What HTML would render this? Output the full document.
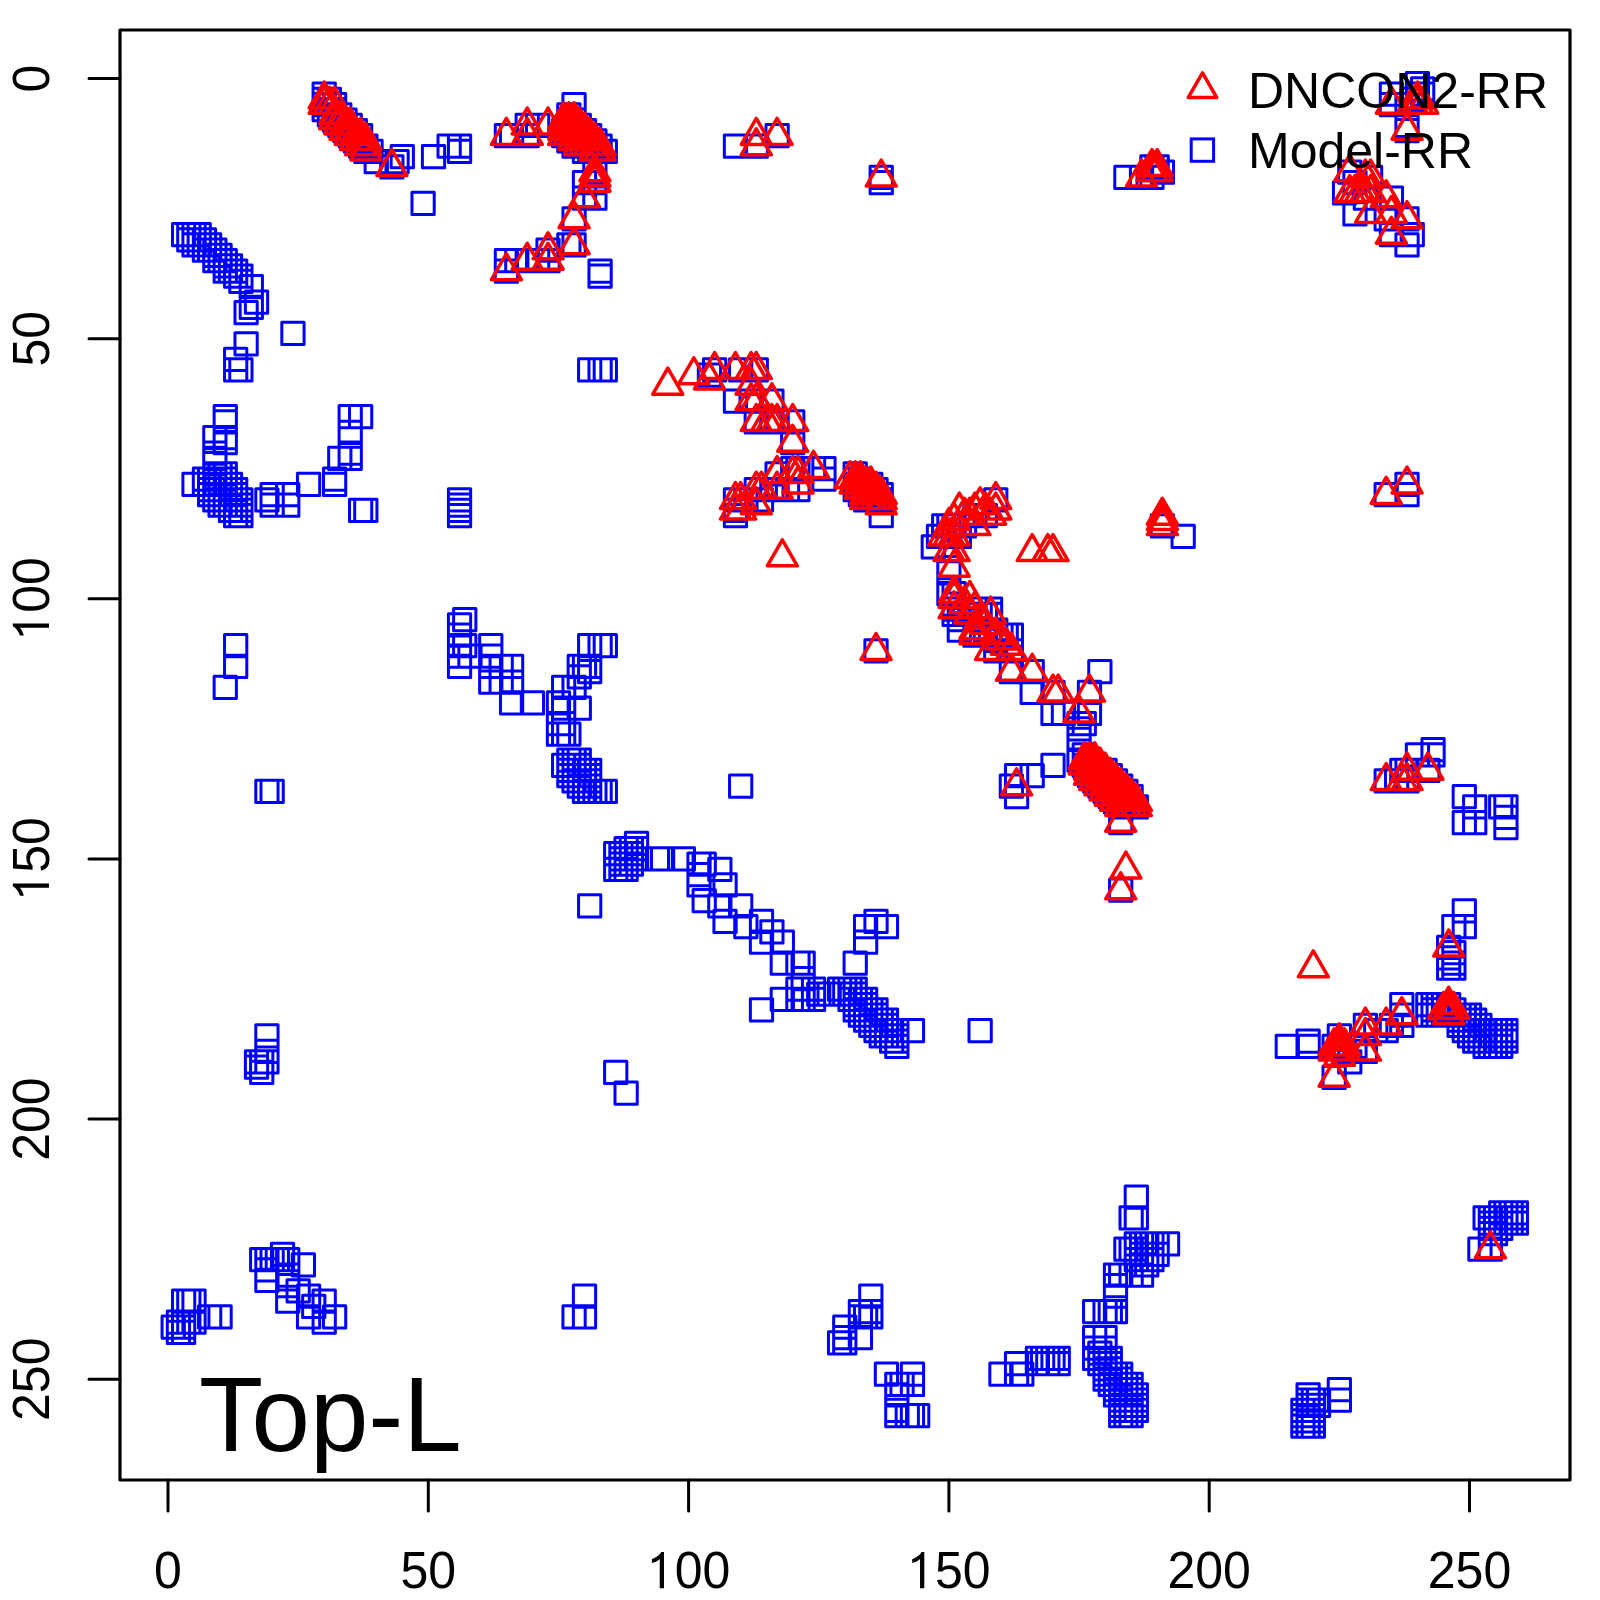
<!DOCTYPE html>
<html><head><meta charset="utf-8"><style>
html,body{margin:0;padding:0;background:#fff;}
svg{display:block;}
.ax{font-family:"Liberation Sans",sans-serif;font-size:50px;fill:#000;}
.lg{font-family:"Liberation Sans",sans-serif;font-size:50px;fill:#000;}
</style></head><body>
<svg width="1600" height="1600" viewBox="0 0 1600 1600">
<rect width="1600" height="1600" fill="#fff"/>
<path d="M172.49 223.47h22.25v22.25h-22.25zM177.70 223.47h22.25v22.25h-22.25zM182.91 223.47h22.25v22.25h-22.25zM188.11 223.47h22.25v22.25h-22.25zM177.70 228.67h22.25v22.25h-22.25zM182.91 228.67h22.25v22.25h-22.25zM188.11 228.67h22.25v22.25h-22.25zM193.32 228.67h22.25v22.25h-22.25zM182.91 233.87h22.25v22.25h-22.25zM188.11 233.87h22.25v22.25h-22.25zM193.32 233.87h22.25v22.25h-22.25zM198.52 233.87h22.25v22.25h-22.25zM193.32 239.07h22.25v22.25h-22.25zM198.52 239.07h22.25v22.25h-22.25zM203.73 239.07h22.25v22.25h-22.25zM203.73 244.28h22.25v22.25h-22.25zM208.94 244.28h22.25v22.25h-22.25zM203.73 249.48h22.25v22.25h-22.25zM208.94 249.48h22.25v22.25h-22.25zM214.14 249.48h22.25v22.25h-22.25zM214.14 254.68h22.25v22.25h-22.25zM219.35 254.68h22.25v22.25h-22.25zM214.14 259.89h22.25v22.25h-22.25zM219.35 259.89h22.25v22.25h-22.25zM224.55 259.89h22.25v22.25h-22.25zM224.55 265.09h22.25v22.25h-22.25zM229.76 265.09h22.25v22.25h-22.25zM229.76 270.29h22.25v22.25h-22.25zM240.17 275.50h22.25v22.25h-22.25zM245.38 291.10h22.25v22.25h-22.25zM240.17 296.31h22.25v22.25h-22.25zM234.97 301.51h22.25v22.25h-22.25zM281.82 322.32h22.25v22.25h-22.25zM234.97 332.73h22.25v22.25h-22.25zM224.55 348.34h22.25v22.25h-22.25zM224.55 358.74h22.25v22.25h-22.25zM229.76 358.74h22.25v22.25h-22.25zM214.14 405.57h22.25v22.25h-22.25zM214.14 410.77h22.25v22.25h-22.25zM203.73 426.38h22.25v22.25h-22.25zM214.14 426.38h22.25v22.25h-22.25zM214.14 431.59h22.25v22.25h-22.25zM203.73 441.99h22.25v22.25h-22.25zM203.73 447.19h22.25v22.25h-22.25zM203.73 452.40h22.25v22.25h-22.25zM203.73 462.80h22.25v22.25h-22.25zM208.94 462.80h22.25v22.25h-22.25zM214.14 462.80h22.25v22.25h-22.25zM193.32 468.01h22.25v22.25h-22.25zM198.52 468.01h22.25v22.25h-22.25zM203.73 468.01h22.25v22.25h-22.25zM208.94 468.01h22.25v22.25h-22.25zM214.14 468.01h22.25v22.25h-22.25zM193.32 473.21h22.25v22.25h-22.25zM198.52 473.21h22.25v22.25h-22.25zM203.73 473.21h22.25v22.25h-22.25zM208.94 473.21h22.25v22.25h-22.25zM214.14 473.21h22.25v22.25h-22.25zM219.35 473.21h22.25v22.25h-22.25zM198.52 478.41h22.25v22.25h-22.25zM203.73 478.41h22.25v22.25h-22.25zM208.94 478.41h22.25v22.25h-22.25zM214.14 478.41h22.25v22.25h-22.25zM219.35 478.41h22.25v22.25h-22.25zM224.55 478.41h22.25v22.25h-22.25zM198.52 483.62h22.25v22.25h-22.25zM203.73 483.62h22.25v22.25h-22.25zM208.94 483.62h22.25v22.25h-22.25zM214.14 483.62h22.25v22.25h-22.25zM219.35 483.62h22.25v22.25h-22.25zM224.55 483.62h22.25v22.25h-22.25zM203.73 488.82h22.25v22.25h-22.25zM208.94 488.82h22.25v22.25h-22.25zM214.14 488.82h22.25v22.25h-22.25zM219.35 488.82h22.25v22.25h-22.25zM224.55 488.82h22.25v22.25h-22.25zM229.76 488.82h22.25v22.25h-22.25zM208.94 494.02h22.25v22.25h-22.25zM214.14 494.02h22.25v22.25h-22.25zM219.35 494.02h22.25v22.25h-22.25zM224.55 494.02h22.25v22.25h-22.25zM229.76 494.02h22.25v22.25h-22.25zM219.35 499.22h22.25v22.25h-22.25zM224.55 499.22h22.25v22.25h-22.25zM229.76 499.22h22.25v22.25h-22.25zM224.55 504.43h22.25v22.25h-22.25zM229.76 504.43h22.25v22.25h-22.25zM182.91 473.21h22.25v22.25h-22.25zM255.79 488.82h22.25v22.25h-22.25zM261.00 483.62h22.25v22.25h-22.25zM261.00 494.02h22.25v22.25h-22.25zM276.61 483.62h22.25v22.25h-22.25zM276.61 494.02h22.25v22.25h-22.25zM297.44 473.21h22.25v22.25h-22.25zM323.47 468.01h22.25v22.25h-22.25zM323.47 473.21h22.25v22.25h-22.25zM328.67 447.19h22.25v22.25h-22.25zM339.09 447.19h22.25v22.25h-22.25zM339.09 441.99h22.25v22.25h-22.25zM339.09 421.18h22.25v22.25h-22.25zM339.09 405.57h22.25v22.25h-22.25zM349.50 405.57h22.25v22.25h-22.25zM313.06 82.98h22.25v22.25h-22.25zM313.06 88.19h22.25v22.25h-22.25zM313.06 93.39h22.25v22.25h-22.25zM313.06 98.59h22.25v22.25h-22.25zM318.26 88.19h22.25v22.25h-22.25zM318.26 93.39h22.25v22.25h-22.25zM318.26 98.59h22.25v22.25h-22.25zM318.26 103.80h22.25v22.25h-22.25zM323.47 93.39h22.25v22.25h-22.25zM323.47 98.59h22.25v22.25h-22.25zM323.47 103.80h22.25v22.25h-22.25zM323.47 109.00h22.25v22.25h-22.25zM328.67 103.80h22.25v22.25h-22.25zM328.67 109.00h22.25v22.25h-22.25zM328.67 114.20h22.25v22.25h-22.25zM333.88 109.00h22.25v22.25h-22.25zM333.88 114.20h22.25v22.25h-22.25zM333.88 119.41h22.25v22.25h-22.25zM339.09 114.20h22.25v22.25h-22.25zM339.09 119.41h22.25v22.25h-22.25zM339.09 124.61h22.25v22.25h-22.25zM344.29 119.41h22.25v22.25h-22.25zM344.29 124.61h22.25v22.25h-22.25zM344.29 129.81h22.25v22.25h-22.25zM349.50 124.61h22.25v22.25h-22.25zM349.50 129.81h22.25v22.25h-22.25zM349.50 135.01h22.25v22.25h-22.25zM354.70 135.01h22.25v22.25h-22.25zM354.70 140.22h22.25v22.25h-22.25zM359.91 140.22h22.25v22.25h-22.25zM365.12 150.62h22.25v22.25h-22.25zM380.73 155.83h22.25v22.25h-22.25zM385.94 150.62h22.25v22.25h-22.25zM391.14 145.42h22.25v22.25h-22.25zM411.97 192.25h22.25v22.25h-22.25zM422.38 145.42h22.25v22.25h-22.25zM438.00 135.01h22.25v22.25h-22.25zM448.41 135.01h22.25v22.25h-22.25zM448.41 140.22h22.25v22.25h-22.25zM495.27 124.61h22.25v22.25h-22.25zM500.47 124.61h22.25v22.25h-22.25zM516.09 114.20h22.25v22.25h-22.25zM516.09 124.61h22.25v22.25h-22.25zM526.50 114.20h22.25v22.25h-22.25zM562.94 93.39h22.25v22.25h-22.25zM557.74 103.80h22.25v22.25h-22.25zM583.77 161.03h22.25v22.25h-22.25zM583.77 171.44h22.25v22.25h-22.25zM583.77 187.04h22.25v22.25h-22.25zM573.36 171.44h22.25v22.25h-22.25zM573.36 187.04h22.25v22.25h-22.25zM562.94 207.86h22.25v22.25h-22.25zM557.74 233.87h22.25v22.25h-22.25zM562.94 233.87h22.25v22.25h-22.25zM536.91 239.07h22.25v22.25h-22.25zM495.27 249.48h22.25v22.25h-22.25zM505.68 249.48h22.25v22.25h-22.25zM516.09 249.48h22.25v22.25h-22.25zM526.50 249.48h22.25v22.25h-22.25zM536.91 249.48h22.25v22.25h-22.25zM495.27 259.89h22.25v22.25h-22.25zM588.97 259.89h22.25v22.25h-22.25zM588.97 265.09h22.25v22.25h-22.25zM557.74 109.00h22.25v22.25h-22.25zM562.94 109.00h22.25v22.25h-22.25zM557.74 114.20h22.25v22.25h-22.25zM562.94 114.20h22.25v22.25h-22.25zM568.15 114.20h22.25v22.25h-22.25zM552.53 119.41h22.25v22.25h-22.25zM557.74 119.41h22.25v22.25h-22.25zM562.94 119.41h22.25v22.25h-22.25zM568.15 119.41h22.25v22.25h-22.25zM573.36 119.41h22.25v22.25h-22.25zM552.53 124.61h22.25v22.25h-22.25zM557.74 124.61h22.25v22.25h-22.25zM562.94 124.61h22.25v22.25h-22.25zM568.15 124.61h22.25v22.25h-22.25zM573.36 124.61h22.25v22.25h-22.25zM578.56 124.61h22.25v22.25h-22.25zM557.74 129.81h22.25v22.25h-22.25zM562.94 129.81h22.25v22.25h-22.25zM568.15 129.81h22.25v22.25h-22.25zM573.36 129.81h22.25v22.25h-22.25zM578.56 129.81h22.25v22.25h-22.25zM583.77 129.81h22.25v22.25h-22.25zM562.94 135.01h22.25v22.25h-22.25zM568.15 135.01h22.25v22.25h-22.25zM573.36 135.01h22.25v22.25h-22.25zM578.56 135.01h22.25v22.25h-22.25zM583.77 135.01h22.25v22.25h-22.25zM588.97 135.01h22.25v22.25h-22.25zM573.36 140.22h22.25v22.25h-22.25zM578.56 140.22h22.25v22.25h-22.25zM583.77 140.22h22.25v22.25h-22.25zM588.97 140.22h22.25v22.25h-22.25zM594.18 140.22h22.25v22.25h-22.25zM578.56 358.74h22.25v22.25h-22.25zM588.97 358.74h22.25v22.25h-22.25zM594.18 358.74h22.25v22.25h-22.25zM448.41 488.82h22.25v22.25h-22.25zM448.41 494.02h22.25v22.25h-22.25zM448.41 499.22h22.25v22.25h-22.25zM448.41 504.43h22.25v22.25h-22.25zM698.30 363.95h22.25v22.25h-22.25zM724.33 389.96h22.25v22.25h-22.25zM760.77 389.96h22.25v22.25h-22.25zM781.60 431.59h22.25v22.25h-22.25zM765.98 462.80h22.25v22.25h-22.25zM844.07 462.80h22.25v22.25h-22.25zM812.83 468.01h22.25v22.25h-22.25zM724.33 499.22h22.25v22.25h-22.25zM724.33 504.43h22.25v22.25h-22.25zM844.07 468.01h22.25v22.25h-22.25zM844.07 478.41h22.25v22.25h-22.25zM849.27 468.01h22.25v22.25h-22.25zM844.07 473.21h22.25v22.25h-22.25zM849.27 473.21h22.25v22.25h-22.25zM854.48 473.21h22.25v22.25h-22.25zM859.69 473.21h22.25v22.25h-22.25zM849.27 478.41h22.25v22.25h-22.25zM854.48 478.41h22.25v22.25h-22.25zM859.69 478.41h22.25v22.25h-22.25zM864.89 478.41h22.25v22.25h-22.25zM849.27 483.62h22.25v22.25h-22.25zM854.48 483.62h22.25v22.25h-22.25zM859.69 483.62h22.25v22.25h-22.25zM864.89 483.62h22.25v22.25h-22.25zM870.10 483.62h22.25v22.25h-22.25zM854.48 488.82h22.25v22.25h-22.25zM859.69 488.82h22.25v22.25h-22.25zM864.89 488.82h22.25v22.25h-22.25zM870.10 488.82h22.25v22.25h-22.25zM870.10 504.43h22.25v22.25h-22.25zM724.33 135.01h22.25v22.25h-22.25zM745.15 135.01h22.25v22.25h-22.25zM765.98 124.61h22.25v22.25h-22.25zM870.10 166.23h22.25v22.25h-22.25zM870.10 171.44h22.25v22.25h-22.25zM1114.78 166.23h22.25v22.25h-22.25zM1130.40 166.23h22.25v22.25h-22.25zM1140.81 166.23h22.25v22.25h-22.25zM1140.81 155.83h22.25v22.25h-22.25zM1146.02 155.83h22.25v22.25h-22.25zM1151.22 161.03h22.25v22.25h-22.25zM1338.64 161.03h22.25v22.25h-22.25zM1333.43 181.84h22.25v22.25h-22.25zM1343.84 202.65h22.25v22.25h-22.25zM1359.46 166.23h22.25v22.25h-22.25zM1380.29 187.04h22.25v22.25h-22.25zM1395.90 207.86h22.25v22.25h-22.25zM1401.11 223.47h22.25v22.25h-22.25zM1395.90 233.87h22.25v22.25h-22.25zM1380.29 223.47h22.25v22.25h-22.25zM1375.08 207.86h22.25v22.25h-22.25zM1354.26 187.04h22.25v22.25h-22.25zM1343.84 171.44h22.25v22.25h-22.25zM1406.32 72.58h22.25v22.25h-22.25zM1411.52 77.78h22.25v22.25h-22.25zM1411.52 82.98h22.25v22.25h-22.25zM1380.29 82.98h22.25v22.25h-22.25zM1380.29 93.39h22.25v22.25h-22.25zM1395.90 93.39h22.25v22.25h-22.25zM1395.90 114.20h22.25v22.25h-22.25zM1395.90 119.41h22.25v22.25h-22.25zM1401.11 88.19h22.25v22.25h-22.25zM984.63 488.82h22.25v22.25h-22.25zM932.57 514.83h22.25v22.25h-22.25zM927.36 525.24h22.25v22.25h-22.25zM922.16 535.64h22.25v22.25h-22.25zM937.78 514.83h22.25v22.25h-22.25zM942.98 514.83h22.25v22.25h-22.25zM948.19 525.24h22.25v22.25h-22.25zM937.78 556.46h22.25v22.25h-22.25zM937.78 561.66h22.25v22.25h-22.25zM937.78 582.47h22.25v22.25h-22.25zM942.98 582.47h22.25v22.25h-22.25zM942.98 598.08h22.25v22.25h-22.25zM942.98 603.28h22.25v22.25h-22.25zM1000.25 624.10h22.25v22.25h-22.25zM984.63 618.89h22.25v22.25h-22.25zM979.42 598.08h22.25v22.25h-22.25zM974.22 504.43h22.25v22.25h-22.25zM963.81 504.43h22.25v22.25h-22.25zM953.39 514.83h22.25v22.25h-22.25zM942.98 592.88h22.25v22.25h-22.25zM948.19 608.49h22.25v22.25h-22.25zM948.19 618.89h22.25v22.25h-22.25zM953.39 603.28h22.25v22.25h-22.25zM958.60 598.08h22.25v22.25h-22.25zM963.81 598.08h22.25v22.25h-22.25zM963.81 608.49h22.25v22.25h-22.25zM963.81 624.10h22.25v22.25h-22.25zM969.01 603.28h22.25v22.25h-22.25zM974.22 603.28h22.25v22.25h-22.25zM979.42 603.28h22.25v22.25h-22.25zM974.22 618.89h22.25v22.25h-22.25zM979.42 618.89h22.25v22.25h-22.25zM984.63 629.30h22.25v22.25h-22.25zM984.63 639.71h22.25v22.25h-22.25zM989.84 624.10h22.25v22.25h-22.25zM995.04 624.10h22.25v22.25h-22.25zM1000.25 639.71h22.25v22.25h-22.25zM1000.25 660.52h22.25v22.25h-22.25zM1021.07 660.52h22.25v22.25h-22.25zM1021.07 681.33h22.25v22.25h-22.25zM1041.89 681.33h22.25v22.25h-22.25zM1041.89 702.14h22.25v22.25h-22.25zM1078.34 681.33h22.25v22.25h-22.25zM1088.75 660.52h22.25v22.25h-22.25zM1067.93 728.16h22.25v22.25h-22.25zM1078.34 702.14h22.25v22.25h-22.25zM1067.93 712.55h22.25v22.25h-22.25zM1067.93 717.75h22.25v22.25h-22.25zM1073.13 712.55h22.25v22.25h-22.25zM1041.89 754.17h22.25v22.25h-22.25zM1021.07 764.58h22.25v22.25h-22.25zM1109.57 811.40h22.25v22.25h-22.25zM1073.13 743.76h22.25v22.25h-22.25zM1067.93 748.97h22.25v22.25h-22.25zM1073.13 748.97h22.25v22.25h-22.25zM1078.34 748.97h22.25v22.25h-22.25zM1073.13 754.17h22.25v22.25h-22.25zM1078.34 754.17h22.25v22.25h-22.25zM1083.54 754.17h22.25v22.25h-22.25zM1078.34 759.37h22.25v22.25h-22.25zM1083.54 759.37h22.25v22.25h-22.25zM1088.75 759.37h22.25v22.25h-22.25zM1093.95 759.37h22.25v22.25h-22.25zM1078.34 764.58h22.25v22.25h-22.25zM1083.54 764.58h22.25v22.25h-22.25zM1088.75 764.58h22.25v22.25h-22.25zM1093.95 764.58h22.25v22.25h-22.25zM1099.16 764.58h22.25v22.25h-22.25zM1083.54 769.78h22.25v22.25h-22.25zM1088.75 769.78h22.25v22.25h-22.25zM1093.95 769.78h22.25v22.25h-22.25zM1099.16 769.78h22.25v22.25h-22.25zM1104.37 769.78h22.25v22.25h-22.25zM1088.75 774.98h22.25v22.25h-22.25zM1093.95 774.98h22.25v22.25h-22.25zM1099.16 774.98h22.25v22.25h-22.25zM1104.37 774.98h22.25v22.25h-22.25zM1109.57 774.98h22.25v22.25h-22.25zM1093.95 780.19h22.25v22.25h-22.25zM1099.16 780.19h22.25v22.25h-22.25zM1104.37 780.19h22.25v22.25h-22.25zM1109.57 780.19h22.25v22.25h-22.25zM1114.78 780.19h22.25v22.25h-22.25zM1099.16 785.39h22.25v22.25h-22.25zM1104.37 785.39h22.25v22.25h-22.25zM1109.57 785.39h22.25v22.25h-22.25zM1114.78 785.39h22.25v22.25h-22.25zM1119.99 785.39h22.25v22.25h-22.25zM1104.37 790.59h22.25v22.25h-22.25zM1109.57 790.59h22.25v22.25h-22.25zM1114.78 790.59h22.25v22.25h-22.25zM1119.99 790.59h22.25v22.25h-22.25zM1109.57 795.80h22.25v22.25h-22.25zM1114.78 795.80h22.25v22.25h-22.25zM1119.99 795.80h22.25v22.25h-22.25zM1125.19 795.80h22.25v22.25h-22.25zM1005.45 764.58h22.25v22.25h-22.25zM1000.25 774.98h22.25v22.25h-22.25zM1005.45 785.39h22.25v22.25h-22.25zM1109.57 879.04h22.25v22.25h-22.25zM1151.22 514.83h22.25v22.25h-22.25zM1172.05 525.24h22.25v22.25h-22.25zM1375.08 483.62h22.25v22.25h-22.25zM1395.90 473.21h22.25v22.25h-22.25zM1395.90 483.62h22.25v22.25h-22.25zM864.89 639.71h22.25v22.25h-22.25zM729.54 774.98h22.25v22.25h-22.25zM646.24 847.83h22.25v22.25h-22.25zM651.45 847.83h22.25v22.25h-22.25zM672.27 847.83h22.25v22.25h-22.25zM687.89 853.03h22.25v22.25h-22.25zM693.09 853.03h22.25v22.25h-22.25zM687.89 873.84h22.25v22.25h-22.25zM708.71 858.23h22.25v22.25h-22.25zM713.92 873.84h22.25v22.25h-22.25zM693.09 889.45h22.25v22.25h-22.25zM708.71 894.65h22.25v22.25h-22.25zM713.92 910.26h22.25v22.25h-22.25zM729.54 894.65h22.25v22.25h-22.25zM750.36 910.26h22.25v22.25h-22.25zM578.56 894.65h22.25v22.25h-22.25zM687.89 863.43h22.25v22.25h-22.25zM750.36 931.07h22.25v22.25h-22.25zM771.18 931.07h22.25v22.25h-22.25zM771.18 951.89h22.25v22.25h-22.25zM786.80 951.89h22.25v22.25h-22.25zM792.01 951.89h22.25v22.25h-22.25zM792.01 967.49h22.25v22.25h-22.25zM771.18 988.31h22.25v22.25h-22.25zM750.36 998.71h22.25v22.25h-22.25zM844.07 951.89h22.25v22.25h-22.25zM854.48 915.46h22.25v22.25h-22.25zM854.48 931.07h22.25v22.25h-22.25zM864.89 910.26h22.25v22.25h-22.25zM875.30 915.46h22.25v22.25h-22.25zM734.74 915.46h22.25v22.25h-22.25zM760.77 920.67h22.25v22.25h-22.25zM818.04 983.10h22.25v22.25h-22.25zM901.33 1019.52h22.25v22.25h-22.25zM224.55 634.50h22.25v22.25h-22.25zM224.55 655.31h22.25v22.25h-22.25zM214.14 676.13h22.25v22.25h-22.25zM255.79 780.19h22.25v22.25h-22.25zM261.00 780.19h22.25v22.25h-22.25zM453.62 608.49h22.25v22.25h-22.25zM448.41 613.69h22.25v22.25h-22.25zM448.41 624.10h22.25v22.25h-22.25zM448.41 634.50h22.25v22.25h-22.25zM453.62 634.50h22.25v22.25h-22.25zM448.41 644.91h22.25v22.25h-22.25zM448.41 655.31h22.25v22.25h-22.25zM458.82 644.91h22.25v22.25h-22.25zM479.65 634.50h22.25v22.25h-22.25zM479.65 644.91h22.25v22.25h-22.25zM479.65 655.31h22.25v22.25h-22.25zM479.65 670.92h22.25v22.25h-22.25zM490.06 655.31h22.25v22.25h-22.25zM500.47 655.31h22.25v22.25h-22.25zM490.06 670.92h22.25v22.25h-22.25zM500.47 670.92h22.25v22.25h-22.25zM500.47 691.74h22.25v22.25h-22.25zM521.30 691.74h22.25v22.25h-22.25zM578.56 634.50h22.25v22.25h-22.25zM588.97 634.50h22.25v22.25h-22.25zM594.18 634.50h22.25v22.25h-22.25zM568.15 655.31h22.25v22.25h-22.25zM573.36 655.31h22.25v22.25h-22.25zM578.56 655.31h22.25v22.25h-22.25zM568.15 665.72h22.25v22.25h-22.25zM578.56 660.52h22.25v22.25h-22.25zM552.53 676.13h22.25v22.25h-22.25zM562.94 676.13h22.25v22.25h-22.25zM547.33 691.74h22.25v22.25h-22.25zM552.53 696.94h22.25v22.25h-22.25zM568.15 696.94h22.25v22.25h-22.25zM547.33 722.95h22.25v22.25h-22.25zM552.53 722.95h22.25v22.25h-22.25zM557.74 722.95h22.25v22.25h-22.25zM547.33 712.55h22.25v22.25h-22.25zM552.53 712.55h22.25v22.25h-22.25zM557.74 748.97h22.25v22.25h-22.25zM562.94 748.97h22.25v22.25h-22.25zM568.15 748.97h22.25v22.25h-22.25zM552.53 754.17h22.25v22.25h-22.25zM557.74 754.17h22.25v22.25h-22.25zM562.94 754.17h22.25v22.25h-22.25zM568.15 754.17h22.25v22.25h-22.25zM557.74 759.37h22.25v22.25h-22.25zM562.94 759.37h22.25v22.25h-22.25zM568.15 759.37h22.25v22.25h-22.25zM573.36 759.37h22.25v22.25h-22.25zM578.56 759.37h22.25v22.25h-22.25zM557.74 764.58h22.25v22.25h-22.25zM562.94 764.58h22.25v22.25h-22.25zM568.15 764.58h22.25v22.25h-22.25zM573.36 764.58h22.25v22.25h-22.25zM578.56 764.58h22.25v22.25h-22.25zM562.94 769.78h22.25v22.25h-22.25zM568.15 769.78h22.25v22.25h-22.25zM573.36 769.78h22.25v22.25h-22.25zM578.56 769.78h22.25v22.25h-22.25zM568.15 774.98h22.25v22.25h-22.25zM573.36 774.98h22.25v22.25h-22.25zM578.56 774.98h22.25v22.25h-22.25zM573.36 780.19h22.25v22.25h-22.25zM578.56 780.19h22.25v22.25h-22.25zM583.77 780.19h22.25v22.25h-22.25zM588.97 780.19h22.25v22.25h-22.25zM594.18 780.19h22.25v22.25h-22.25zM255.79 1024.73h22.25v22.25h-22.25zM255.79 1040.34h22.25v22.25h-22.25zM255.79 1050.74h22.25v22.25h-22.25zM245.38 1050.74h22.25v22.25h-22.25zM245.38 1055.95h22.25v22.25h-22.25zM250.58 1061.15h22.25v22.25h-22.25zM250.58 1050.74h22.25v22.25h-22.25zM604.59 1061.15h22.25v22.25h-22.25zM615.00 1081.96h22.25v22.25h-22.25zM969.01 1019.52h22.25v22.25h-22.25zM1375.08 769.78h22.25v22.25h-22.25zM1395.90 769.78h22.25v22.25h-22.25zM1390.70 759.37h22.25v22.25h-22.25zM1416.73 759.37h22.25v22.25h-22.25zM1406.32 743.76h22.25v22.25h-22.25zM1421.93 738.56h22.25v22.25h-22.25zM1421.93 743.76h22.25v22.25h-22.25zM1395.90 759.37h22.25v22.25h-22.25zM1385.49 769.78h22.25v22.25h-22.25zM1453.17 785.39h22.25v22.25h-22.25zM1463.58 795.80h22.25v22.25h-22.25zM1453.17 811.40h22.25v22.25h-22.25zM1463.58 811.40h22.25v22.25h-22.25zM1489.61 795.80h22.25v22.25h-22.25zM1494.82 795.80h22.25v22.25h-22.25zM1494.82 806.20h22.25v22.25h-22.25zM1494.82 816.61h22.25v22.25h-22.25zM1453.17 899.86h22.25v22.25h-22.25zM1442.76 915.46h22.25v22.25h-22.25zM1453.17 915.46h22.25v22.25h-22.25zM1437.55 936.28h22.25v22.25h-22.25zM1442.76 941.48h22.25v22.25h-22.25zM1437.55 946.68h22.25v22.25h-22.25zM1442.76 951.89h22.25v22.25h-22.25zM1437.55 957.09h22.25v22.25h-22.25zM1442.76 957.09h22.25v22.25h-22.25zM1390.70 993.51h22.25v22.25h-22.25zM1390.70 1003.92h22.25v22.25h-22.25zM1390.70 1014.32h22.25v22.25h-22.25zM1416.73 993.51h22.25v22.25h-22.25zM1421.93 993.51h22.25v22.25h-22.25zM1427.14 993.51h22.25v22.25h-22.25zM1432.35 993.51h22.25v22.25h-22.25zM1437.55 993.51h22.25v22.25h-22.25zM1421.93 998.71h22.25v22.25h-22.25zM1427.14 998.71h22.25v22.25h-22.25zM1432.35 998.71h22.25v22.25h-22.25zM1437.55 998.71h22.25v22.25h-22.25zM1442.76 998.71h22.25v22.25h-22.25zM1416.73 1003.92h22.25v22.25h-22.25zM1421.93 1003.92h22.25v22.25h-22.25zM1427.14 1003.92h22.25v22.25h-22.25zM1432.35 1003.92h22.25v22.25h-22.25zM1437.55 1003.92h22.25v22.25h-22.25zM1442.76 1003.92h22.25v22.25h-22.25zM1447.96 1003.92h22.25v22.25h-22.25zM1453.17 1003.92h22.25v22.25h-22.25zM1458.38 1003.92h22.25v22.25h-22.25zM1447.96 1009.12h22.25v22.25h-22.25zM1453.17 1009.12h22.25v22.25h-22.25zM1458.38 1009.12h22.25v22.25h-22.25zM1463.58 1009.12h22.25v22.25h-22.25zM1447.96 1014.32h22.25v22.25h-22.25zM1453.17 1014.32h22.25v22.25h-22.25zM1458.38 1014.32h22.25v22.25h-22.25zM1463.58 1014.32h22.25v22.25h-22.25zM1468.79 1014.32h22.25v22.25h-22.25zM1453.17 1019.52h22.25v22.25h-22.25zM1458.38 1019.52h22.25v22.25h-22.25zM1463.58 1019.52h22.25v22.25h-22.25zM1468.79 1019.52h22.25v22.25h-22.25zM1473.99 1019.52h22.25v22.25h-22.25zM1479.20 1019.52h22.25v22.25h-22.25zM1484.41 1019.52h22.25v22.25h-22.25zM1489.61 1019.52h22.25v22.25h-22.25zM1494.82 1019.52h22.25v22.25h-22.25zM1458.38 1024.73h22.25v22.25h-22.25zM1463.58 1024.73h22.25v22.25h-22.25zM1468.79 1024.73h22.25v22.25h-22.25zM1473.99 1024.73h22.25v22.25h-22.25zM1479.20 1024.73h22.25v22.25h-22.25zM1484.41 1024.73h22.25v22.25h-22.25zM1489.61 1024.73h22.25v22.25h-22.25zM1494.82 1024.73h22.25v22.25h-22.25zM1463.58 1029.93h22.25v22.25h-22.25zM1468.79 1029.93h22.25v22.25h-22.25zM1473.99 1029.93h22.25v22.25h-22.25zM1479.20 1029.93h22.25v22.25h-22.25zM1484.41 1029.93h22.25v22.25h-22.25zM1489.61 1029.93h22.25v22.25h-22.25zM1494.82 1029.93h22.25v22.25h-22.25zM1473.99 1035.13h22.25v22.25h-22.25zM1479.20 1035.13h22.25v22.25h-22.25zM1484.41 1035.13h22.25v22.25h-22.25zM1489.61 1035.13h22.25v22.25h-22.25zM1276.17 1035.13h22.25v22.25h-22.25zM1296.99 1029.93h22.25v22.25h-22.25zM1296.99 1035.13h22.25v22.25h-22.25zM1328.23 1024.73h22.25v22.25h-22.25zM1323.02 1035.13h22.25v22.25h-22.25zM1323.02 1066.35h22.25v22.25h-22.25zM1338.64 1050.74h22.25v22.25h-22.25zM1354.26 1014.32h22.25v22.25h-22.25zM1354.26 1040.34h22.25v22.25h-22.25zM1333.43 1040.34h22.25v22.25h-22.25zM1343.84 1035.13h22.25v22.25h-22.25zM1364.67 1019.52h22.25v22.25h-22.25zM1375.08 1019.52h22.25v22.25h-22.25zM1380.29 1014.32h22.25v22.25h-22.25zM1489.61 1201.63h22.25v22.25h-22.25zM1494.82 1201.63h22.25v22.25h-22.25zM1500.02 1201.63h22.25v22.25h-22.25zM1505.23 1201.63h22.25v22.25h-22.25zM1473.99 1206.83h22.25v22.25h-22.25zM1479.20 1206.83h22.25v22.25h-22.25zM1484.41 1206.83h22.25v22.25h-22.25zM1489.61 1206.83h22.25v22.25h-22.25zM1494.82 1206.83h22.25v22.25h-22.25zM1500.02 1206.83h22.25v22.25h-22.25zM1505.23 1206.83h22.25v22.25h-22.25zM1479.20 1212.04h22.25v22.25h-22.25zM1484.41 1212.04h22.25v22.25h-22.25zM1489.61 1212.04h22.25v22.25h-22.25zM1494.82 1212.04h22.25v22.25h-22.25zM1500.02 1212.04h22.25v22.25h-22.25zM1505.23 1212.04h22.25v22.25h-22.25zM1479.20 1217.24h22.25v22.25h-22.25zM1484.41 1217.24h22.25v22.25h-22.25zM1489.61 1217.24h22.25v22.25h-22.25zM1479.20 1222.44h22.25v22.25h-22.25zM1484.41 1222.44h22.25v22.25h-22.25zM1468.79 1238.05h22.25v22.25h-22.25zM1479.20 1238.05h22.25v22.25h-22.25zM172.49 1290.08h22.25v22.25h-22.25zM177.70 1290.08h22.25v22.25h-22.25zM182.91 1290.08h22.25v22.25h-22.25zM162.08 1316.10h22.25v22.25h-22.25zM167.29 1310.89h22.25v22.25h-22.25zM167.29 1321.30h22.25v22.25h-22.25zM172.49 1310.89h22.25v22.25h-22.25zM172.49 1321.30h22.25v22.25h-22.25zM177.70 1310.89h22.25v22.25h-22.25zM182.91 1310.89h22.25v22.25h-22.25zM198.52 1305.69h22.25v22.25h-22.25zM208.94 1305.69h22.25v22.25h-22.25zM167.29 1316.10h22.25v22.25h-22.25zM172.49 1316.10h22.25v22.25h-22.25zM250.58 1248.46h22.25v22.25h-22.25zM255.79 1248.46h22.25v22.25h-22.25zM261.00 1248.46h22.25v22.25h-22.25zM266.20 1248.46h22.25v22.25h-22.25zM271.41 1243.25h22.25v22.25h-22.25zM271.41 1248.46h22.25v22.25h-22.25zM276.61 1248.46h22.25v22.25h-22.25zM292.23 1253.66h22.25v22.25h-22.25zM255.79 1258.86h22.25v22.25h-22.25zM255.79 1269.27h22.25v22.25h-22.25zM276.61 1264.07h22.25v22.25h-22.25zM276.61 1274.47h22.25v22.25h-22.25zM276.61 1290.08h22.25v22.25h-22.25zM297.44 1284.88h22.25v22.25h-22.25zM297.44 1305.69h22.25v22.25h-22.25zM313.06 1290.08h22.25v22.25h-22.25zM313.06 1310.89h22.25v22.25h-22.25zM323.47 1305.69h22.25v22.25h-22.25zM573.36 1284.88h22.25v22.25h-22.25zM562.94 1305.69h22.25v22.25h-22.25zM573.36 1305.69h22.25v22.25h-22.25zM859.69 1284.88h22.25v22.25h-22.25zM849.27 1300.49h22.25v22.25h-22.25zM859.69 1300.49h22.25v22.25h-22.25zM849.27 1305.69h22.25v22.25h-22.25zM854.48 1305.69h22.25v22.25h-22.25zM859.69 1305.69h22.25v22.25h-22.25zM833.66 1316.10h22.25v22.25h-22.25zM828.45 1331.70h22.25v22.25h-22.25zM833.66 1331.70h22.25v22.25h-22.25zM849.27 1326.50h22.25v22.25h-22.25zM833.66 1326.50h22.25v22.25h-22.25zM875.30 1362.92h22.25v22.25h-22.25zM901.33 1362.92h22.25v22.25h-22.25zM885.72 1373.33h22.25v22.25h-22.25zM890.92 1373.33h22.25v22.25h-22.25zM901.33 1373.33h22.25v22.25h-22.25zM885.72 1383.73h22.25v22.25h-22.25zM885.72 1399.34h22.25v22.25h-22.25zM885.72 1404.55h22.25v22.25h-22.25zM896.13 1404.55h22.25v22.25h-22.25zM901.33 1404.55h22.25v22.25h-22.25zM906.54 1404.55h22.25v22.25h-22.25zM1125.19 1186.02h22.25v22.25h-22.25zM1119.99 1206.83h22.25v22.25h-22.25zM1125.19 1206.83h22.25v22.25h-22.25zM1125.19 1232.85h22.25v22.25h-22.25zM1130.40 1232.85h22.25v22.25h-22.25zM1135.60 1232.85h22.25v22.25h-22.25zM1140.81 1232.85h22.25v22.25h-22.25zM1146.02 1232.85h22.25v22.25h-22.25zM1156.43 1232.85h22.25v22.25h-22.25zM1114.78 1238.05h22.25v22.25h-22.25zM1119.99 1238.05h22.25v22.25h-22.25zM1125.19 1238.05h22.25v22.25h-22.25zM1130.40 1243.25h22.25v22.25h-22.25zM1135.60 1243.25h22.25v22.25h-22.25zM1140.81 1243.25h22.25v22.25h-22.25zM1146.02 1243.25h22.25v22.25h-22.25zM1125.19 1248.46h22.25v22.25h-22.25zM1140.81 1248.46h22.25v22.25h-22.25zM1104.37 1264.07h22.25v22.25h-22.25zM1109.57 1264.07h22.25v22.25h-22.25zM1119.99 1264.07h22.25v22.25h-22.25zM1130.40 1264.07h22.25v22.25h-22.25zM1104.37 1274.47h22.25v22.25h-22.25zM1104.37 1284.88h22.25v22.25h-22.25zM1083.54 1300.49h22.25v22.25h-22.25zM1093.95 1300.49h22.25v22.25h-22.25zM1104.37 1300.49h22.25v22.25h-22.25zM1130.40 1253.66h22.25v22.25h-22.25zM1135.60 1253.66h22.25v22.25h-22.25zM1099.16 1300.49h22.25v22.25h-22.25zM1047.10 1347.31h22.25v22.25h-22.25zM1047.10 1352.52h22.25v22.25h-22.25zM1093.95 1362.92h22.25v22.25h-22.25zM1099.16 1362.92h22.25v22.25h-22.25zM1104.37 1362.92h22.25v22.25h-22.25zM1109.57 1362.92h22.25v22.25h-22.25zM1093.95 1368.12h22.25v22.25h-22.25zM1099.16 1368.12h22.25v22.25h-22.25zM1104.37 1368.12h22.25v22.25h-22.25zM1109.57 1368.12h22.25v22.25h-22.25zM1099.16 1373.33h22.25v22.25h-22.25zM1104.37 1373.33h22.25v22.25h-22.25zM1109.57 1373.33h22.25v22.25h-22.25zM1114.78 1373.33h22.25v22.25h-22.25zM1119.99 1373.33h22.25v22.25h-22.25zM1104.37 1378.53h22.25v22.25h-22.25zM1109.57 1378.53h22.25v22.25h-22.25zM1114.78 1378.53h22.25v22.25h-22.25zM1119.99 1378.53h22.25v22.25h-22.25zM1104.37 1383.73h22.25v22.25h-22.25zM1109.57 1383.73h22.25v22.25h-22.25zM1114.78 1383.73h22.25v22.25h-22.25zM1119.99 1383.73h22.25v22.25h-22.25zM1125.19 1383.73h22.25v22.25h-22.25zM1109.57 1388.94h22.25v22.25h-22.25zM1114.78 1388.94h22.25v22.25h-22.25zM1119.99 1388.94h22.25v22.25h-22.25zM1125.19 1388.94h22.25v22.25h-22.25zM1109.57 1394.14h22.25v22.25h-22.25zM1114.78 1394.14h22.25v22.25h-22.25zM1119.99 1394.14h22.25v22.25h-22.25zM1125.19 1394.14h22.25v22.25h-22.25zM1109.57 1399.34h22.25v22.25h-22.25zM1114.78 1399.34h22.25v22.25h-22.25zM1119.99 1399.34h22.25v22.25h-22.25zM1125.19 1399.34h22.25v22.25h-22.25zM1109.57 1404.55h22.25v22.25h-22.25zM1114.78 1404.55h22.25v22.25h-22.25zM1119.99 1404.55h22.25v22.25h-22.25zM989.84 1362.92h22.25v22.25h-22.25zM1005.45 1352.52h22.25v22.25h-22.25zM1005.45 1362.92h22.25v22.25h-22.25zM1010.66 1362.92h22.25v22.25h-22.25zM1026.28 1347.31h22.25v22.25h-22.25zM1031.48 1347.31h22.25v22.25h-22.25zM1036.69 1347.31h22.25v22.25h-22.25zM1041.89 1347.31h22.25v22.25h-22.25zM1026.28 1352.52h22.25v22.25h-22.25zM1036.69 1352.52h22.25v22.25h-22.25zM1296.99 1383.73h22.25v22.25h-22.25zM1296.99 1388.94h22.25v22.25h-22.25zM1302.20 1388.94h22.25v22.25h-22.25zM1307.40 1388.94h22.25v22.25h-22.25zM1296.99 1394.14h22.25v22.25h-22.25zM1302.20 1394.14h22.25v22.25h-22.25zM1307.40 1394.14h22.25v22.25h-22.25zM1291.78 1399.34h22.25v22.25h-22.25zM1296.99 1399.34h22.25v22.25h-22.25zM1302.20 1399.34h22.25v22.25h-22.25zM1291.78 1404.55h22.25v22.25h-22.25zM1296.99 1404.55h22.25v22.25h-22.25zM1302.20 1404.55h22.25v22.25h-22.25zM1291.78 1409.75h22.25v22.25h-22.25zM1296.99 1409.75h22.25v22.25h-22.25zM1302.20 1409.75h22.25v22.25h-22.25zM1291.78 1414.95h22.25v22.25h-22.25zM1296.99 1414.95h22.25v22.25h-22.25zM1302.20 1414.95h22.25v22.25h-22.25zM1328.23 1378.53h22.25v22.25h-22.25zM1328.23 1388.94h22.25v22.25h-22.25zM703.50 358.74h22.25v22.25h-22.25zM729.54 358.74h22.25v22.25h-22.25zM745.15 358.74h22.25v22.25h-22.25zM745.15 410.77h22.25v22.25h-22.25zM760.77 410.77h22.25v22.25h-22.25zM765.98 410.77h22.25v22.25h-22.25zM781.60 410.77h22.25v22.25h-22.25zM739.95 389.96h22.25v22.25h-22.25zM781.60 457.60h22.25v22.25h-22.25zM786.80 457.60h22.25v22.25h-22.25zM802.42 457.60h22.25v22.25h-22.25zM812.83 457.60h22.25v22.25h-22.25zM745.15 478.41h22.25v22.25h-22.25zM760.77 478.41h22.25v22.25h-22.25zM765.98 478.41h22.25v22.25h-22.25zM776.39 478.41h22.25v22.25h-22.25zM786.80 478.41h22.25v22.25h-22.25zM724.33 488.82h22.25v22.25h-22.25zM734.74 488.82h22.25v22.25h-22.25zM750.36 488.82h22.25v22.25h-22.25zM1052.31 702.14h22.25v22.25h-22.25zM287.02 1279.67h22.25v22.25h-22.25zM302.64 1295.28h22.25v22.25h-22.25zM1083.54 1326.50h22.25v22.25h-22.25zM1093.95 1326.50h22.25v22.25h-22.25zM1083.54 1336.91h22.25v22.25h-22.25zM1093.95 1336.91h22.25v22.25h-22.25zM1088.75 1342.11h22.25v22.25h-22.25zM1083.54 1347.31h22.25v22.25h-22.25zM1093.95 1347.31h22.25v22.25h-22.25zM1099.16 1347.31h22.25v22.25h-22.25zM1088.75 1352.52h22.25v22.25h-22.25zM1099.16 1352.52h22.25v22.25h-22.25zM1093.95 1357.72h22.25v22.25h-22.25zM1099.16 1357.72h22.25v22.25h-22.25zM349.50 499.22h22.25v22.25h-22.25zM354.70 499.22h22.25v22.25h-22.25zM625.41 832.22h22.25v22.25h-22.25zM615.00 837.42h22.25v22.25h-22.25zM620.21 837.42h22.25v22.25h-22.25zM625.41 837.42h22.25v22.25h-22.25zM604.59 842.62h22.25v22.25h-22.25zM609.80 842.62h22.25v22.25h-22.25zM620.21 842.62h22.25v22.25h-22.25zM609.80 847.83h22.25v22.25h-22.25zM615.00 847.83h22.25v22.25h-22.25zM625.41 847.83h22.25v22.25h-22.25zM609.80 853.03h22.25v22.25h-22.25zM620.21 853.03h22.25v22.25h-22.25zM604.59 858.23h22.25v22.25h-22.25zM609.80 858.23h22.25v22.25h-22.25zM615.00 858.23h22.25v22.25h-22.25zM786.80 977.90h22.25v22.25h-22.25zM792.01 977.90h22.25v22.25h-22.25zM802.42 977.90h22.25v22.25h-22.25zM786.80 988.31h22.25v22.25h-22.25zM792.01 988.31h22.25v22.25h-22.25zM802.42 988.31h22.25v22.25h-22.25zM807.62 983.10h22.25v22.25h-22.25zM828.45 977.90h22.25v22.25h-22.25zM833.66 977.90h22.25v22.25h-22.25zM838.86 977.90h22.25v22.25h-22.25zM844.07 977.90h22.25v22.25h-22.25zM833.66 983.10h22.25v22.25h-22.25zM838.86 983.10h22.25v22.25h-22.25zM844.07 983.10h22.25v22.25h-22.25zM838.86 988.31h22.25v22.25h-22.25zM844.07 988.31h22.25v22.25h-22.25zM849.27 988.31h22.25v22.25h-22.25zM854.48 988.31h22.25v22.25h-22.25zM844.07 993.51h22.25v22.25h-22.25zM849.27 993.51h22.25v22.25h-22.25zM854.48 993.51h22.25v22.25h-22.25zM844.07 998.71h22.25v22.25h-22.25zM849.27 998.71h22.25v22.25h-22.25zM854.48 998.71h22.25v22.25h-22.25zM859.69 998.71h22.25v22.25h-22.25zM864.89 998.71h22.25v22.25h-22.25zM849.27 1003.92h22.25v22.25h-22.25zM854.48 1003.92h22.25v22.25h-22.25zM859.69 1003.92h22.25v22.25h-22.25zM864.89 1003.92h22.25v22.25h-22.25zM854.48 1009.12h22.25v22.25h-22.25zM859.69 1009.12h22.25v22.25h-22.25zM864.89 1009.12h22.25v22.25h-22.25zM870.10 1009.12h22.25v22.25h-22.25zM875.30 1009.12h22.25v22.25h-22.25zM859.69 1014.32h22.25v22.25h-22.25zM864.89 1014.32h22.25v22.25h-22.25zM870.10 1014.32h22.25v22.25h-22.25zM875.30 1014.32h22.25v22.25h-22.25zM864.89 1019.52h22.25v22.25h-22.25zM870.10 1019.52h22.25v22.25h-22.25zM875.30 1019.52h22.25v22.25h-22.25zM880.51 1019.52h22.25v22.25h-22.25zM885.72 1019.52h22.25v22.25h-22.25zM870.10 1024.73h22.25v22.25h-22.25zM875.30 1024.73h22.25v22.25h-22.25zM880.51 1024.73h22.25v22.25h-22.25zM885.72 1024.73h22.25v22.25h-22.25zM880.51 1029.93h22.25v22.25h-22.25zM885.72 1029.93h22.25v22.25h-22.25zM885.72 1035.13h22.25v22.25h-22.25z" fill="none" stroke="#0000ff" stroke-width="3.0" stroke-linejoin="round"/>
<path d="M324.18 82.01L339.16 107.96L309.20 107.96zM324.18 87.22L339.16 113.17L309.20 113.17zM329.39 87.22L344.37 113.17L314.40 113.17zM334.59 87.22L349.57 113.17L319.61 113.17zM334.59 97.62L349.57 123.57L319.61 123.57zM334.59 102.82L349.57 128.77L319.61 128.77zM339.80 102.82L354.78 128.77L324.82 128.77zM339.80 108.03L354.78 133.98L324.82 133.98zM345.00 108.03L359.99 133.98L330.02 133.98zM345.00 113.23L359.99 139.18L330.02 139.18zM350.21 108.03L365.19 133.98L335.23 133.98zM350.21 113.23L365.19 139.18L335.23 139.18zM350.21 118.43L365.19 144.38L335.23 144.38zM355.42 118.43L370.40 144.38L340.43 144.38zM355.42 123.64L370.40 149.59L340.43 149.59zM360.62 118.43L375.60 144.38L345.64 144.38zM360.62 123.64L375.60 149.59L345.64 149.59zM360.62 128.84L375.60 154.79L345.64 154.79zM365.83 123.64L380.81 149.59L350.85 149.59zM365.83 128.84L380.81 154.79L350.85 154.79zM365.83 134.04L380.81 159.99L350.85 159.99zM391.86 149.65L406.84 175.60L376.88 175.60zM506.39 118.43L521.37 144.38L491.41 144.38zM527.21 108.03L542.20 133.98L512.23 133.98zM527.21 118.43L542.20 144.38L512.23 144.38zM548.04 108.03L563.02 133.98L533.06 133.98zM584.48 113.23L599.46 139.18L569.50 139.18zM600.10 128.84L615.08 154.79L585.12 154.79zM594.89 154.85L609.87 180.80L579.91 180.80zM594.89 160.06L609.87 186.01L579.91 186.01zM594.89 165.26L609.87 191.21L579.91 191.21zM584.48 180.87L599.46 206.82L569.50 206.82zM574.07 201.68L589.05 227.63L559.09 227.63zM574.07 227.70L589.05 253.65L559.09 253.65zM548.04 232.90L563.02 258.85L533.06 258.85zM548.04 243.31L563.02 269.25L533.06 269.25zM527.21 243.31L542.20 269.25L512.23 269.25zM506.39 253.71L521.37 279.66L491.41 279.66zM563.66 102.82L578.64 128.77L548.67 128.77zM568.86 102.82L583.84 128.77L553.88 128.77zM574.07 102.82L589.05 128.77L559.09 128.77zM563.66 108.03L578.64 133.98L548.67 133.98zM568.86 108.03L583.84 133.98L553.88 133.98zM574.07 108.03L589.05 133.98L559.09 133.98zM579.27 108.03L594.26 133.98L564.29 133.98zM563.66 113.23L578.64 139.18L548.67 139.18zM568.86 113.23L583.84 139.18L553.88 139.18zM574.07 113.23L589.05 139.18L559.09 139.18zM579.27 113.23L594.26 139.18L564.29 139.18zM563.66 118.43L578.64 144.38L548.67 144.38zM568.86 118.43L583.84 144.38L553.88 144.38zM574.07 118.43L589.05 144.38L559.09 144.38zM579.27 118.43L594.26 144.38L564.29 144.38zM584.48 118.43L599.46 144.38L569.50 144.38zM589.69 118.43L604.67 144.38L574.70 144.38zM574.07 123.64L589.05 149.59L559.09 149.59zM579.27 123.64L594.26 149.59L564.29 149.59zM584.48 123.64L599.46 149.59L569.50 149.59zM589.69 123.64L604.67 149.59L574.70 149.59zM594.89 123.64L609.87 149.59L579.91 149.59zM579.27 128.84L594.26 154.79L564.29 154.79zM584.48 128.84L599.46 154.79L569.50 154.79zM589.69 128.84L604.67 154.79L574.70 154.79zM594.89 128.84L609.87 154.79L579.91 154.79zM594.89 134.04L609.87 159.99L579.91 159.99zM600.10 134.04L615.08 159.99L585.12 159.99zM667.78 368.18L682.76 394.13L652.79 394.13zM693.81 357.77L708.79 383.72L678.82 383.72zM714.63 352.57L729.61 378.52L699.65 378.52zM709.42 362.97L724.41 388.92L694.44 388.92zM735.45 352.57L750.44 378.52L720.47 378.52zM751.07 352.57L766.05 378.52L736.09 378.52zM756.28 352.57L771.26 378.52L741.30 378.52zM751.07 368.18L766.05 394.13L736.09 394.13zM771.90 383.79L786.88 409.74L756.91 409.74zM756.28 383.79L771.26 409.74L741.30 409.74zM756.28 404.60L771.26 430.55L741.30 430.55zM771.90 404.60L786.88 430.55L756.91 430.55zM792.72 404.60L807.70 430.55L777.74 430.55zM792.72 425.41L807.70 451.36L777.74 451.36zM777.10 456.63L792.08 482.58L762.12 482.58zM797.93 456.63L812.91 482.58L782.94 482.58zM756.28 472.24L771.26 498.19L741.30 498.19zM761.48 472.24L776.47 498.19L746.50 498.19zM777.10 472.24L792.08 498.19L762.12 498.19zM735.45 482.64L750.44 508.59L720.47 508.59zM740.66 482.64L755.64 508.59L725.68 508.59zM756.28 487.85L771.26 513.80L741.30 513.80zM751.07 383.79L766.05 409.74L736.09 409.74zM766.69 404.60L781.67 430.55L751.71 430.55zM777.10 404.60L792.08 430.55L762.12 430.55zM792.72 456.63L807.70 482.58L777.74 482.58zM813.54 451.43L828.53 477.38L798.56 477.38zM797.93 467.03L812.91 492.98L782.94 492.98zM735.45 493.05L750.44 519.00L720.47 519.00zM740.66 493.05L755.64 519.00L725.68 519.00zM849.99 461.83L864.97 487.78L835.00 487.78zM855.19 461.83L870.17 487.78L840.21 487.78zM860.40 461.83L875.38 487.78L845.42 487.78zM855.19 467.03L870.17 492.98L840.21 492.98zM860.40 467.03L875.38 492.98L845.42 492.98zM865.60 467.03L880.59 492.98L850.62 492.98zM870.81 467.03L885.79 492.98L855.83 492.98zM860.40 472.24L875.38 498.19L845.42 498.19zM865.60 472.24L880.59 498.19L850.62 498.19zM870.81 472.24L885.79 498.19L855.83 498.19zM876.02 472.24L891.00 498.19L861.03 498.19zM865.60 477.44L880.59 503.39L850.62 503.39zM870.81 477.44L885.79 503.39L855.83 503.39zM876.02 477.44L891.00 503.39L861.03 503.39zM881.22 477.44L896.20 503.39L866.24 503.39zM865.60 482.64L880.59 508.59L850.62 508.59zM870.81 482.64L885.79 508.59L855.83 508.59zM876.02 482.64L891.00 508.59L861.03 508.59zM881.22 482.64L896.20 508.59L866.24 508.59zM881.22 487.85L896.20 513.80L866.24 513.80zM756.28 118.43L771.26 144.38L741.30 144.38zM756.28 128.84L771.26 154.79L741.30 154.79zM777.10 118.43L792.08 144.38L762.12 144.38zM881.22 160.06L896.20 186.01L866.24 186.01zM1141.52 160.06L1156.50 186.01L1126.54 186.01zM1151.93 149.65L1166.92 175.60L1136.95 175.60zM1157.14 149.65L1172.12 175.60L1142.16 175.60zM1151.93 154.85L1166.92 180.80L1136.95 180.80zM1157.14 154.85L1172.12 180.80L1142.16 180.80zM1365.38 160.06L1380.36 186.01L1350.40 186.01zM1370.59 160.06L1385.57 186.01L1355.60 186.01zM1349.76 175.67L1364.74 201.62L1334.78 201.62zM1370.59 175.67L1385.57 201.62L1355.60 201.62zM1386.20 180.87L1401.19 206.82L1371.22 206.82zM1370.59 196.48L1385.57 222.43L1355.60 222.43zM1391.41 196.48L1406.39 222.43L1376.43 222.43zM1407.03 201.68L1422.01 227.63L1392.05 227.63zM1391.41 217.29L1406.39 243.24L1376.43 243.24zM1391.41 87.22L1406.39 113.17L1376.43 113.17zM1417.44 82.01L1432.42 107.96L1402.46 107.96zM1417.44 87.22L1432.42 113.17L1402.46 113.17zM1412.23 87.22L1427.22 113.17L1397.25 113.17zM1422.65 87.22L1437.63 113.17L1407.66 113.17zM1407.03 113.23L1422.01 139.18L1392.05 139.18zM782.31 539.88L797.29 565.83L767.33 565.83zM995.75 482.64L1010.74 508.59L980.77 508.59zM995.75 493.05L1010.74 519.00L980.77 519.00zM980.14 487.85L995.12 513.80L965.15 513.80zM974.93 493.05L989.91 519.00L959.95 519.00zM959.31 493.05L974.29 519.00L944.33 519.00zM964.52 498.25L979.50 524.20L949.54 524.20zM969.72 498.25L984.71 524.20L954.74 524.20zM974.93 508.66L989.91 534.61L959.95 534.61zM954.11 503.46L969.09 529.41L939.12 529.41zM948.90 508.66L963.88 534.61L933.92 534.61zM943.69 519.06L958.68 545.01L928.71 545.01zM948.90 519.06L963.88 545.01L933.92 545.01zM954.11 519.06L969.09 545.01L939.12 545.01zM948.90 534.67L963.88 560.62L933.92 560.62zM954.11 534.67L969.09 560.62L939.12 560.62zM954.11 550.28L969.09 576.23L939.12 576.23zM954.11 576.30L969.09 602.25L939.12 602.25zM954.11 591.91L969.09 617.86L939.12 617.86zM1032.20 534.67L1047.18 560.62L1017.21 560.62zM1047.81 534.67L1062.80 560.62L1032.83 560.62zM1053.02 534.67L1068.00 560.62L1038.04 560.62zM985.34 493.05L1000.32 519.00L970.36 519.00zM990.55 498.25L1005.53 524.20L975.57 524.20zM954.11 581.50L969.09 607.45L939.12 607.45zM969.72 581.50L984.71 607.45L954.74 607.45zM974.93 591.91L989.91 617.86L959.95 617.86zM990.55 597.11L1005.53 623.06L975.57 623.06zM974.93 612.72L989.91 638.67L959.95 638.67zM995.75 617.92L1010.74 643.87L980.77 643.87zM1011.37 633.53L1026.35 659.48L996.39 659.48zM1011.37 654.34L1026.35 680.29L996.39 680.29zM1032.20 654.34L1047.18 680.29L1017.21 680.29zM1053.02 675.15L1068.00 701.10L1038.04 701.10zM1089.46 675.15L1104.44 701.10L1074.48 701.10zM969.72 597.11L984.71 623.06L954.74 623.06zM974.93 617.92L989.91 643.87L959.95 643.87zM990.55 633.53L1005.53 659.48L975.57 659.48zM980.14 602.31L995.12 628.26L965.15 628.26zM985.34 607.52L1000.32 633.47L970.36 633.47zM964.52 586.70L979.50 612.65L949.54 612.65zM1000.96 623.12L1015.94 649.07L985.98 649.07zM1006.17 628.33L1021.15 654.28L991.18 654.28zM1058.23 675.15L1073.21 701.10L1043.24 701.10zM1079.05 695.97L1094.03 721.92L1064.07 721.92zM1120.70 805.23L1135.68 831.18L1105.72 831.18zM1084.26 742.79L1099.24 768.74L1069.27 768.74zM1089.46 742.79L1104.44 768.74L1074.48 768.74zM1094.67 742.79L1109.65 768.74L1079.69 768.74zM1084.26 748.00L1099.24 773.95L1069.27 773.95zM1089.46 748.00L1104.44 773.95L1074.48 773.95zM1094.67 748.00L1109.65 773.95L1079.69 773.95zM1099.87 748.00L1114.86 773.95L1084.89 773.95zM1089.46 753.20L1104.44 779.15L1074.48 779.15zM1094.67 753.20L1109.65 779.15L1079.69 779.15zM1099.87 753.20L1114.86 779.15L1084.89 779.15zM1105.08 753.20L1120.06 779.15L1090.10 779.15zM1089.46 758.40L1104.44 784.35L1074.48 784.35zM1094.67 758.40L1109.65 784.35L1079.69 784.35zM1099.87 758.40L1114.86 784.35L1084.89 784.35zM1105.08 758.40L1120.06 784.35L1090.10 784.35zM1110.29 758.40L1125.27 784.35L1095.30 784.35zM1094.67 763.61L1109.65 789.56L1079.69 789.56zM1099.87 763.61L1114.86 789.56L1084.89 789.56zM1105.08 763.61L1120.06 789.56L1090.10 789.56zM1110.29 763.61L1125.27 789.56L1095.30 789.56zM1115.49 763.61L1130.47 789.56L1100.51 789.56zM1099.87 768.81L1114.86 794.76L1084.89 794.76zM1105.08 768.81L1120.06 794.76L1090.10 794.76zM1110.29 768.81L1125.27 794.76L1095.30 794.76zM1115.49 768.81L1130.47 794.76L1100.51 794.76zM1120.70 768.81L1135.68 794.76L1105.72 794.76zM1105.08 774.01L1120.06 799.96L1090.10 799.96zM1110.29 774.01L1125.27 799.96L1095.30 799.96zM1115.49 774.01L1130.47 799.96L1100.51 799.96zM1120.70 774.01L1135.68 799.96L1105.72 799.96zM1125.90 774.01L1140.89 799.96L1110.92 799.96zM1110.29 779.21L1125.27 805.16L1095.30 805.16zM1115.49 779.21L1130.47 805.16L1100.51 805.16zM1120.70 779.21L1135.68 805.16L1105.72 805.16zM1125.90 779.21L1140.89 805.16L1110.92 805.16zM1131.11 779.21L1146.09 805.16L1116.13 805.16zM1115.49 784.42L1130.47 810.37L1100.51 810.37zM1120.70 784.42L1135.68 810.37L1105.72 810.37zM1125.90 784.42L1140.89 810.37L1110.92 810.37zM1131.11 784.42L1146.09 810.37L1116.13 810.37zM1136.32 784.42L1151.30 810.37L1121.33 810.37zM1120.70 789.62L1135.68 815.57L1105.72 815.57zM1125.90 789.62L1140.89 815.57L1110.92 815.57zM1131.11 789.62L1146.09 815.57L1116.13 815.57zM1136.32 789.62L1151.30 815.57L1121.33 815.57zM1016.58 768.81L1031.56 794.76L1001.60 794.76zM1125.90 852.06L1140.89 878.01L1110.92 878.01zM1120.70 872.87L1135.68 898.82L1105.72 898.82zM1162.35 498.25L1177.33 524.20L1147.36 524.20zM1162.35 503.46L1177.33 529.41L1147.36 529.41zM1162.35 508.66L1177.33 534.61L1147.36 534.61zM1386.20 477.44L1401.19 503.39L1371.22 503.39zM1407.03 467.03L1422.01 492.98L1392.05 492.98zM876.02 633.53L891.00 659.48L861.03 659.48zM1386.20 763.61L1401.19 789.56L1371.22 789.56zM1407.03 753.20L1422.01 779.15L1392.05 779.15zM1407.03 763.61L1422.01 789.56L1392.05 789.56zM1427.85 753.20L1442.83 779.15L1412.87 779.15zM1401.82 763.61L1416.80 789.56L1386.84 789.56zM1448.68 930.10L1463.66 956.05L1433.69 956.05zM1443.47 992.54L1458.45 1018.49L1428.49 1018.49zM1448.68 987.33L1463.66 1013.28L1433.69 1013.28zM1448.68 992.54L1463.66 1018.49L1433.69 1018.49zM1453.88 992.54L1468.86 1018.49L1438.90 1018.49zM1448.68 997.74L1463.66 1023.69L1433.69 1023.69zM1401.82 997.74L1416.80 1023.69L1386.84 1023.69zM1386.20 1008.15L1401.19 1034.10L1371.22 1034.10zM1339.35 1023.76L1354.33 1049.71L1324.37 1049.71zM1339.35 1028.96L1354.33 1054.91L1324.37 1054.91zM1334.14 1028.96L1349.13 1054.91L1319.16 1054.91zM1344.56 1028.96L1359.54 1054.91L1329.57 1054.91zM1339.35 1034.16L1354.33 1060.11L1324.37 1060.11zM1339.35 1039.36L1354.33 1065.31L1324.37 1065.31zM1334.14 1034.16L1349.13 1060.11L1319.16 1060.11zM1344.56 1034.16L1359.54 1060.11L1329.57 1060.11zM1334.14 1060.18L1349.13 1086.13L1319.16 1086.13zM1365.38 1008.15L1380.36 1034.10L1350.40 1034.10zM1365.38 1018.55L1380.36 1044.50L1350.40 1044.50zM1365.38 1034.16L1380.36 1060.11L1350.40 1060.11zM1313.32 950.91L1328.30 976.86L1298.34 976.86zM1490.32 1231.88L1505.31 1257.83L1475.34 1257.83zM1349.76 154.85L1364.74 180.80L1334.78 180.80zM1354.97 175.67L1369.95 201.62L1339.99 201.62zM1360.17 175.67L1375.16 201.62L1345.19 201.62zM1365.38 175.67L1380.36 201.62L1350.40 201.62z" fill="none" stroke="#ff0000" stroke-width="3.5" stroke-linejoin="round"/>
<rect x="120" y="30" width="1450" height="1450" fill="none" stroke="#000" stroke-width="3.2" stroke-linejoin="round"/>
<path d="M168.00 1480V1511M89 78.50H120M428.30 1480V1511M89 338.65H120M688.60 1480V1511M89 598.80H120M948.90 1480V1511M89 858.95H120M1209.20 1480V1511M89 1119.10H120M1469.50 1480V1511M89 1379.25H120" stroke="#000" stroke-width="3.0" stroke-linecap="round" fill="none"/>
<g transform="translate(168.00 1588.2)"><text x="0" y="0" text-anchor="middle" class="ax" transform="scale(1 1.02)">0</text></g><g transform="translate(49.0 78.50) rotate(-90)"><text x="0" y="0" text-anchor="middle" class="ax" transform="scale(1 1.02)">0</text></g><g transform="translate(428.30 1588.2)"><text x="0" y="0" text-anchor="middle" class="ax" transform="scale(1 1.02)">50</text></g><g transform="translate(49.0 338.65) rotate(-90)"><text x="0" y="0" text-anchor="middle" class="ax" transform="scale(1 1.02)">50</text></g><g transform="translate(688.60 1588.2)"><path d="M-24.6 0V-36.2H-27.4C-28.6 -33.6 -31.5 -31.0 -36.7 -29.0V-25.2C-33.2 -26.0 -30.6 -27.4 -28.85 -29.2V0Z" fill="#000"/><text x="-13.9" y="0" class="ax" transform="scale(1 1.02)">00</text></g><g transform="translate(49.0 598.80) rotate(-90)"><path d="M-24.6 0V-36.2H-27.4C-28.6 -33.6 -31.5 -31.0 -36.7 -29.0V-25.2C-33.2 -26.0 -30.6 -27.4 -28.85 -29.2V0Z" fill="#000"/><text x="-13.9" y="0" class="ax" transform="scale(1 1.02)">00</text></g><g transform="translate(948.90 1588.2)"><path d="M-24.6 0V-36.2H-27.4C-28.6 -33.6 -31.5 -31.0 -36.7 -29.0V-25.2C-33.2 -26.0 -30.6 -27.4 -28.85 -29.2V0Z" fill="#000"/><text x="-13.9" y="0" class="ax" transform="scale(1 1.02)">50</text></g><g transform="translate(49.0 858.95) rotate(-90)"><path d="M-24.6 0V-36.2H-27.4C-28.6 -33.6 -31.5 -31.0 -36.7 -29.0V-25.2C-33.2 -26.0 -30.6 -27.4 -28.85 -29.2V0Z" fill="#000"/><text x="-13.9" y="0" class="ax" transform="scale(1 1.02)">50</text></g><g transform="translate(1209.20 1588.2)"><text x="0" y="0" text-anchor="middle" class="ax" transform="scale(1 1.02)">200</text></g><g transform="translate(49.0 1119.10) rotate(-90)"><text x="0" y="0" text-anchor="middle" class="ax" transform="scale(1 1.02)">200</text></g><g transform="translate(1469.50 1588.2)"><text x="0" y="0" text-anchor="middle" class="ax" transform="scale(1 1.02)">250</text></g><g transform="translate(49.0 1379.25) rotate(-90)"><text x="0" y="0" text-anchor="middle" class="ax" transform="scale(1 1.02)">250</text></g>
<path d="M1202.5 72.9L1216.8 97.6L1188.2 97.6Z" fill="none" stroke="#ff0000" stroke-width="3.5" stroke-linejoin="round"/>
<rect x="1191.2" y="138.9" width="22.4" height="22.4" fill="none" stroke="#0000ff" stroke-width="3.0"/>
<text x="1248" y="108" class="lg">DNCON2-RR</text>
<text x="1248" y="167.5" class="lg">Model-RR</text>
<text x="199" y="1451.3" style="font-family:'Liberation Sans',sans-serif;font-size:105px">Top-L</text>
</svg>
</body></html>
